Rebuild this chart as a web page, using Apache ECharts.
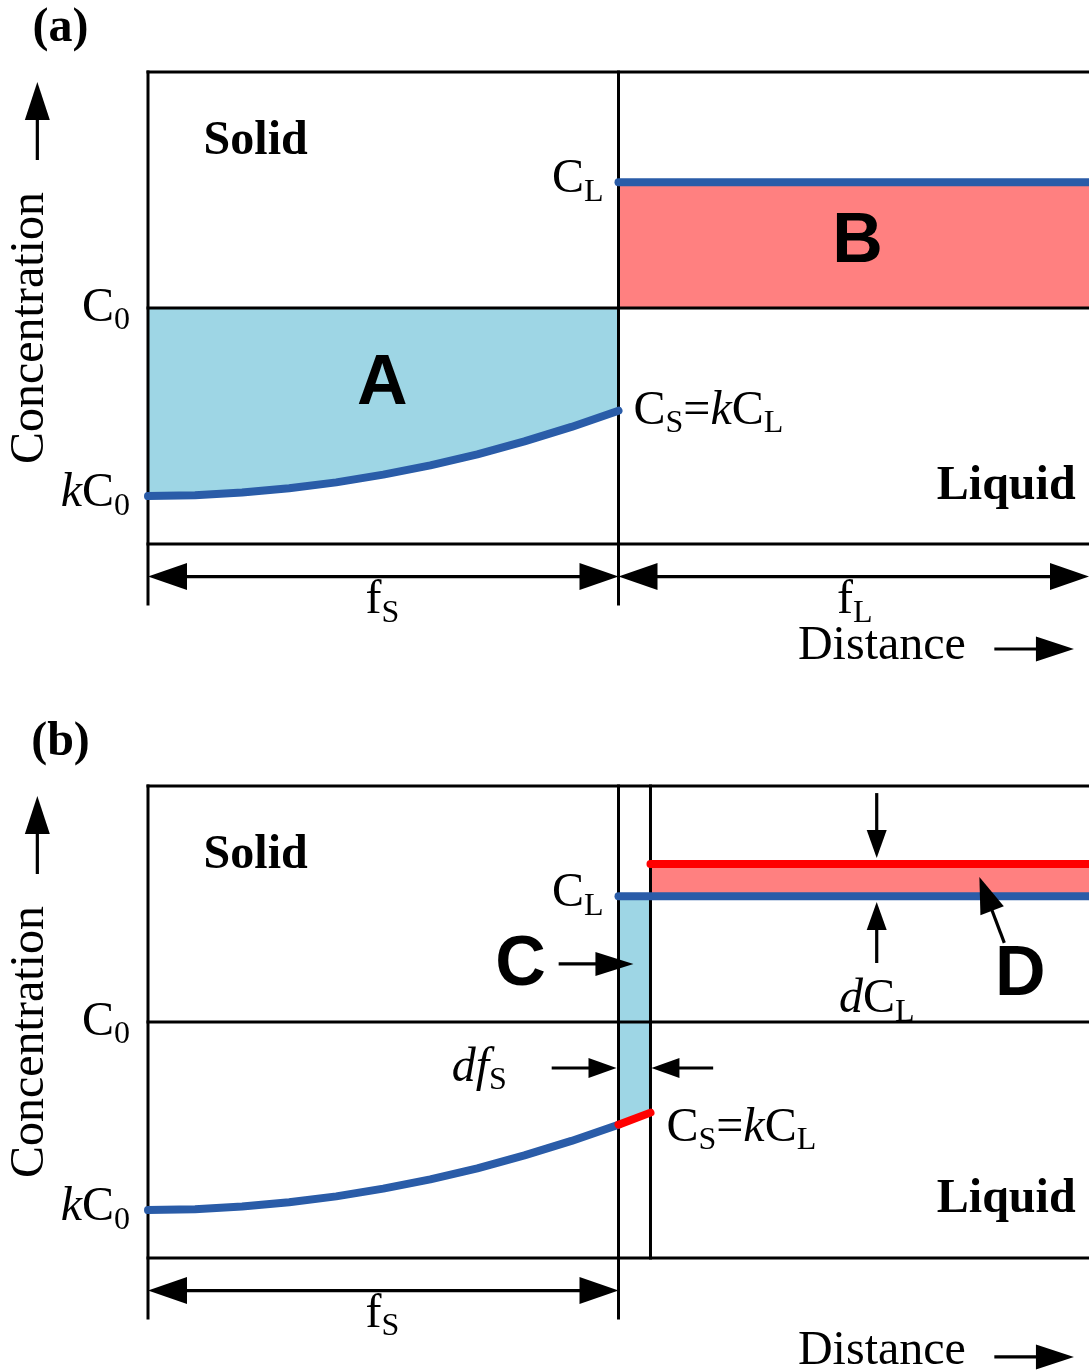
<!DOCTYPE html>
<html>
<head>
<meta charset="utf-8">
<script src="https://cdn.jsdelivr.net/npm/echarts/dist/echarts.min.js"></script>
<style>
  html, body { margin: 0; padding: 0; background: #fff; }
  #chart { width: 1089px; height: 1371px; }
</style>
</head>
<body>
<div id="chart"></div>
<script>
// Scheil solidification: solute distribution across the solid/liquid interface.
// x: distance expressed as solid fraction, y: concentration (C0 = 1).
const C0 = 1.0;        // nominal alloy concentration
const kC0 = 0.203;     // first solid to form
const CL = 1.533;      // liquid concentration at the interface
const dCL = 0.136;     // rise of the liquid concentration after a small step
const fS = 0.5;        // solid fraction (interface position)
const dfS = 0.034;     // small advance of the interface
const yTop = 2.0;      // top of the frame
const xEnd = 1.0;      // right end of the frame

// solid composition profile C_S(f_S)
const curveFs = [0, 0.05, 0.10, 0.15, 0.20, 0.25, 0.30, 0.35, 0.40, 0.45, 0.50];
const curveCs = [0.203, 0.207, 0.218, 0.236, 0.261, 0.294, 0.333, 0.380, 0.435, 0.496, 0.565];
// solid formed while the interface advances by dfS
const stepFs = [0.50, 0.534];
const stepCs = [0.565, 0.616];

const SERIF = "'Liberation Serif','Times New Roman',serif";
const SANS = "'Liberation Sans',Arial,sans-serif";
const BLUE = '#2a5ca8';
const RED = '#ff0000';
const FILL_BLUE = '#9ed6e5';
const FILL_PINK = '#ff8080';

const RICH = {
  m: { fontFamily: SERIF, fontSize: 48, lineHeight: 48, verticalAlign: 'top' },
  i: { fontFamily: SERIF, fontSize: 48, fontStyle: 'italic', lineHeight: 48, verticalAlign: 'top' },
  s: { fontFamily: SERIF, fontSize: 32, lineHeight: 48, verticalAlign: 'top', padding: [21, 0, 0, 0] },
  b: { fontFamily: SERIF, fontSize: 48, fontWeight: 'bold', lineHeight: 48, verticalAlign: 'top' },
  L: { fontFamily: SANS, fontSize: 70, fontWeight: 'bold', lineHeight: 70, verticalAlign: 'top' }
};

const tickEnd = -0.254;   // dimension ticks below the frame
const dimY = -0.138;      // dimension arrows f_S / f_L

const curvePts = curveFs.map((x, i) => [x, curveCs[i]]);
const stepPts = stepFs.map((x, i) => [x, stepCs[i]]);

function fillSeries(g, pts, color) {
  return {
    type: 'custom', xAxisIndex: g, yAxisIndex: g, z: 1, silent: true,
    data: [pts[0]],
    renderItem: (p, api) => ({
      type: 'polygon',
      shape: { points: pts.map(q => api.coord(q)) },
      style: { fill: color }
    })
  };
}

function segSeries(g, segs) {
  return {
    type: 'custom', xAxisIndex: g, yAxisIndex: g, z: 2, silent: true,
    data: segs,
    renderItem: (p, api) => {
      const a = api.coord([api.value(0), api.value(1)]);
      const b = api.coord([api.value(2), api.value(3)]);
      return {
        type: 'line',
        shape: { x1: a[0], y1: a[1], x2: b[0], y2: b[1] },
        style: { stroke: '#000', lineWidth: 3, lineCap: 'square' }
      };
    }
  };
}

function lineSeries(g, pts, color) {
  return {
    type: 'line', xAxisIndex: g, yAxisIndex: g, z: 3, silent: true,
    data: pts, symbol: 'none', showSymbol: false, clip: false,
    lineStyle: { color: color, width: 8, cap: 'round', join: 'round' }
  };
}

function arrowSeries(g, list, len, wid, both) {
  return {
    type: 'custom', xAxisIndex: g, yAxisIndex: g, z: 4, silent: true,
    data: list,
    renderItem: (p, api) => {
      const a = api.coord([api.value(0), api.value(1)]);
      const b = api.coord([api.value(2), api.value(3)]);
      const dx = b[0] - a[0], dy = b[1] - a[1];
      const L = Math.hypot(dx, dy), ux = dx / L, uy = dy / L, nx = -uy, ny = ux;
      const head = (tip, sx, sy) => {
        const bx = tip[0] - sx * len, by = tip[1] - sy * len;
        return {
          type: 'polygon',
          shape: { points: [tip, [bx + nx * wid / 2, by + ny * wid / 2], [bx - nx * wid / 2, by - ny * wid / 2]] },
          style: { fill: '#000' }
        };
      };
      const s = both ? [a[0] + ux * len * 0.6, a[1] + uy * len * 0.6] : a;
      const e = [b[0] - ux * len * 0.6, b[1] - uy * len * 0.6];
      const children = [
        { type: 'line', shape: { x1: s[0], y1: s[1], x2: e[0], y2: e[1] }, style: { stroke: '#000', lineWidth: 3.2 } },
        head(b, ux, uy)
      ];
      if (both) children.push(head(a, -ux, -uy));
      return { type: 'group', children: children };
    }
  };
}

function textSeries(g, notes) {
  return {
    type: 'custom', xAxisIndex: g, yAxisIndex: g, z: 5, silent: true,
    data: notes.map(n => n.at),
    renderItem: (p, api) => {
      const n = notes[p.dataIndex];
      const pt = api.coord([api.value(0), api.value(1)]);
      return {
        type: 'text', x: pt[0], y: pt[1], rotation: n.rot || 0,
        style: {
          text: n.text, rich: RICH, fill: '#000',
          fontFamily: SERIF, fontSize: 48,
          align: n.align || 'center', verticalAlign: 'middle'
        }
      };
    }
  };
}

// ---- panel (a) ----
const framesA = [
  [0, yTop, xEnd, yTop], [0, yTop, 0, tickEnd], [0, 0, xEnd, 0],
  [0, C0, xEnd, C0], [fS, yTop, fS, tickEnd]
];
const notesA = [
  { at: [-0.093, 2.186], text: '{b|(a)}' },
  { at: [0.1144, 1.705], text: '{b|Solid}' },
  { at: [0.484, CL + 0.01], text: '{m|C}{s|L}', align: 'right' },
  { at: [-0.019, C0], text: '{m|C}{s|0}', align: 'right' },
  { at: [-0.019, kC0 + 0.012], text: '{i|k}{m|C}{s|0}', align: 'right' },
  { at: [0.249, 0.674], text: '{L|A}' },
  { at: [0.754, 1.275], text: '{L|B}' },
  { at: [0.516, 0.564], text: '{m|C}{s|S}{m|=}{i|k}{m|C}{s|L}', align: 'left' },
  { at: [0.912, 0.245], text: '{b|Liquid}' },
  { at: [0.249, -0.241], text: '{m|f}{s|S}' },
  { at: [0.751, -0.241], text: '{m|f}{s|L}' },
  { at: [0.6907, -0.432], text: '{m|Distance}', align: 'left' },
  { at: [-0.125, 0.915], text: '{m|Concentration}', rot: Math.PI / 2 }
];
const dimArrowsA = [[0, dimY, fS, dimY], [fS, dimY, xEnd, dimY]];
const dirArrowsA = [[0.8994, -0.445, 0.984, -0.445], [-0.1176, 1.627, -0.1176, 1.958]];

// ---- panel (b) ----
const framesB = [
  [0, yTop, xEnd, yTop], [0, yTop, 0, tickEnd], [0, 0, xEnd, 0],
  [0, C0, xEnd, C0], [fS, yTop, fS, tickEnd], [fS + dfS, yTop, fS + dfS, 0]
];
const notesB = [
  { at: [-0.093, 2.186], text: '{b|(b)}' },
  { at: [0.1144, 1.705], text: '{b|Solid}' },
  { at: [0.484, CL + 0.01], text: '{m|C}{s|L}', align: 'right' },
  { at: [-0.019, C0], text: '{m|C}{s|0}', align: 'right' },
  { at: [-0.019, kC0 + 0.012], text: '{i|k}{m|C}{s|0}', align: 'right' },
  { at: [0.396, 1.237], text: '{L|C}' },
  { at: [0.927, 1.195], text: '{L|D}' },
  { at: [0.3814, 0.805], text: '{i|df}{s|S}', align: 'right' },
  { at: [0.551, 0.551], text: '{m|C}{s|S}{m|=}{i|k}{m|C}{s|L}', align: 'left' },
  { at: [0.7744, 1.097], text: '{i|d}{m|C}{s|L}' },
  { at: [0.912, 0.249], text: '{b|Liquid}' },
  { at: [0.249, -0.237], text: '{m|f}{s|S}' },
  { at: [0.6907, -0.394], text: '{m|Distance}', align: 'left' },
  { at: [-0.125, 0.915], text: '{m|Concentration}', rot: Math.PI / 2 }
];
const dimArrowsB = [[0, dimY, fS, dimY]];
const dirArrowsB = [[0.8994, -0.419, 0.984, -0.419], [-0.1176, 1.627, -0.1176, 1.958]];
const cArrow = [[0.4364, 1.246, 0.5159, 1.246]];
const dfArrows = [[0.429, 0.805, 0.4979, 0.805], [0.6006, 0.805, 0.535, 0.805]];
const dcArrows = [[0.7744, 1.970, 0.7744, 1.695], [0.7744, 1.250, 0.7744, 1.508]];
const dArrow = [[0.910, 1.335, 0.8835, 1.614]];

const chart = echarts.init(document.getElementById('chart'), null, { renderer: 'canvas' });
chart.setOption({
  animation: false,
  backgroundColor: '#fff',
  grid: [
    { left: 148, top: 72, width: 944, height: 472, show: false },
    { left: 148, top: 786, width: 944, height: 472, show: false }
  ],
  xAxis: [0, 1].map(g => ({ type: 'value', gridIndex: g, min: 0, max: xEnd, show: false })),
  yAxis: [0, 1].map(g => ({ type: 'value', gridIndex: g, min: 0, max: yTop, show: false })),
  series: [
    // panel (a)
    fillSeries(0, curvePts.concat([[fS, C0], [0, C0]]), FILL_BLUE),
    fillSeries(0, [[fS, CL], [xEnd, CL], [xEnd, C0], [fS, C0]], FILL_PINK),
    segSeries(0, framesA),
    lineSeries(0, curvePts, BLUE),
    lineSeries(0, [[fS, CL], [xEnd, CL]], BLUE),
    arrowSeries(0, dimArrowsA, 39, 27, true),
    arrowSeries(0, dirArrowsA, 38, 25, false),
    textSeries(0, notesA),
    // panel (b)
    fillSeries(1, stepPts.concat([[fS + dfS, CL], [fS, CL]]), FILL_BLUE),
    fillSeries(1, [[fS + dfS, CL], [xEnd, CL], [xEnd, CL + dCL], [fS + dfS, CL + dCL]], FILL_PINK),
    segSeries(1, framesB),
    lineSeries(1, curvePts, BLUE),
    lineSeries(1, [[fS, CL], [xEnd, CL]], BLUE),
    lineSeries(1, [[fS + dfS, CL + dCL], [xEnd, CL + dCL]], RED),
    lineSeries(1, stepPts, RED),
    arrowSeries(1, dimArrowsB, 39, 27, true),
    arrowSeries(1, dirArrowsB, 38, 25, false),
    arrowSeries(1, cArrow, 38, 24, false),
    arrowSeries(1, dfArrows, 28, 20, false),
    arrowSeries(1, dcArrows, 28, 20, false),
    arrowSeries(1, dArrow, 36, 25, false),
    textSeries(1, notesB)
  ]
});
</script>
</body>
</html>
